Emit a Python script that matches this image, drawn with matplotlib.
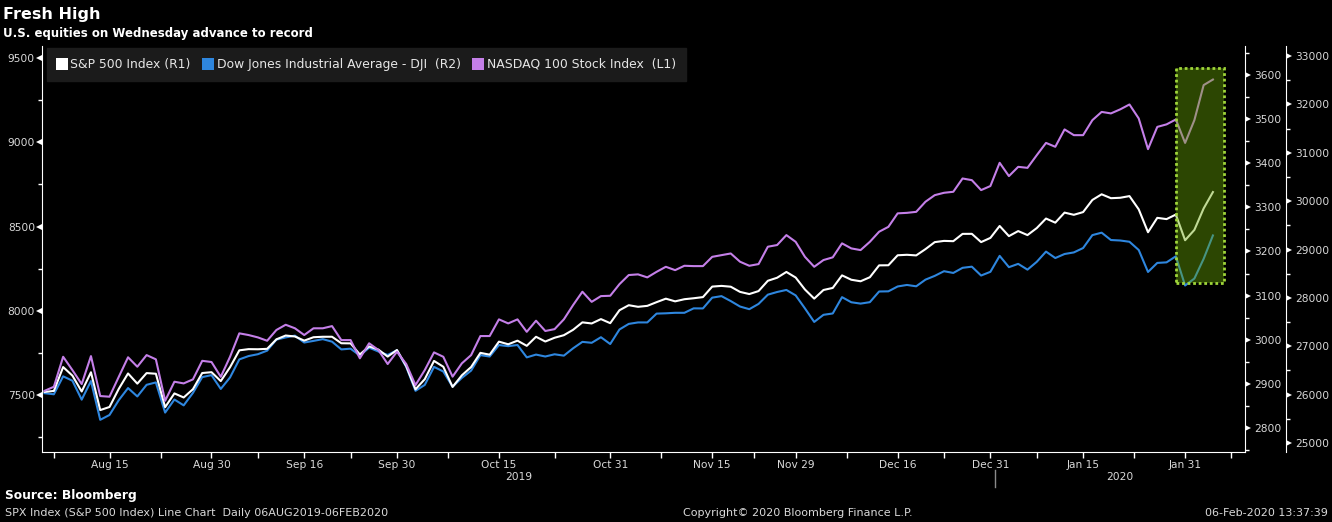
import matplotlib
matplotlib.use("Agg")
import matplotlib.pyplot as plt
import matplotlib.transforms as mtransforms
from matplotlib.lines import Line2D
from matplotlib.patches import Rectangle
import pandas as pd

# ---------------- data ----------------
holidays = ["2019-09-02", "2019-11-28", "2019-12-25", "2020-01-01", "2020-01-20"]
dates = pd.bdate_range("2019-08-06", "2020-02-05", freq="C", holidays=holidays)

spx = [2881.77, 2883.98, 2938.09, 2918.65, 2882.70, 2926.32, 2840.60, 2847.60, 2888.68, 2923.65,
       2900.51, 2924.43, 2922.95, 2847.11, 2878.38, 2869.16, 2887.94, 2924.58, 2926.46,
       2906.27, 2937.78, 2976.00, 2978.71, 2978.43, 2979.39, 3000.93, 3009.57, 3007.39, 2997.96,
       3005.70, 3006.73, 3006.79, 2992.07, 2991.78, 2966.60, 2984.87, 2977.62, 2961.79, 2976.74,
       2940.25, 2887.61, 2910.63, 2952.01, 2938.79, 2893.06, 2919.40, 2938.13, 2970.27, 2966.15,
       2995.68, 2989.69, 2997.95, 2986.20, 3006.72, 2995.99, 3004.52, 3010.29, 3022.55, 3039.42,
       3036.89, 3046.77, 3037.56,
       3066.91, 3078.27, 3074.62, 3076.78, 3085.18, 3093.08, 3087.01, 3091.84, 3094.04, 3096.63,
       3120.46, 3122.03, 3120.18, 3108.46, 3103.54, 3110.29, 3133.64, 3140.52, 3153.63, 3140.98,
       3113.87, 3093.20, 3112.76, 3117.43, 3145.91, 3135.96, 3132.52, 3141.63, 3168.57, 3168.80,
       3191.45, 3192.52, 3191.14, 3205.37, 3221.22, 3224.01, 3223.38, 3239.91, 3240.02, 3221.29,
       3230.78,
       3257.85, 3234.85, 3246.28, 3237.18, 3253.05, 3274.70, 3265.35, 3288.13, 3283.15, 3289.29,
       3316.81, 3329.62, 3320.79, 3321.75, 3325.54, 3295.47, 3243.63, 3276.24, 3273.40, 3283.66,
       3225.52,
       3248.92, 3297.59, 3334.69]

dji = [26029.52, 26007.07, 26378.19, 26287.44, 25896.44, 26279.91, 25479.42, 25579.39, 25886.01,
       26135.79, 25962.44, 26202.73, 26252.24, 25628.90, 25898.83, 25777.90, 26036.10, 26362.25,
       26403.28,
       26118.02, 26355.47, 26728.15, 26797.46, 26835.51, 26909.43, 27137.04, 27182.45, 27219.52,
       27076.82, 27110.80, 27147.08, 27094.79, 26935.07, 26949.99, 26807.77, 26970.71, 26891.12,
       26820.25, 26916.83,
       26573.04, 26078.62, 26201.04, 26573.72, 26478.02, 26164.04, 26346.01, 26496.67, 26816.59,
       26787.36, 27024.80, 27001.98, 27025.88, 26770.20, 26827.64, 26788.10, 26833.95, 26805.53,
       26958.06, 27090.72, 27071.46, 27186.69, 27046.23,
       27347.36, 27462.11, 27492.63, 27492.56, 27674.80, 27681.24, 27691.49, 27691.49, 27783.59,
       27781.96, 28004.89, 28036.22, 27934.02, 27821.09, 27766.29, 27875.62, 28066.47, 28121.68,
       28164.00, 28051.41,
       27783.04, 27502.81, 27649.78, 27677.79, 28015.06, 27909.60, 27881.72, 27911.30, 28132.05,
       28135.38, 28235.89, 28267.16, 28239.28, 28376.96, 28455.09, 28551.53, 28515.45, 28621.39,
       28645.26, 28462.14, 28538.44,
       28868.80, 28634.88, 28703.38, 28583.68, 28745.09, 28956.90, 28823.77, 28907.05, 28939.67,
       29030.22, 29297.64, 29348.10, 29196.04, 29186.27, 29160.09, 28989.73, 28535.80, 28722.85,
       28734.45, 28859.44, 28256.03,
       28399.81, 28807.63, 29290.85]

ndx = [7525, 7549, 7727, 7648, 7565, 7731, 7494, 7490, 7608, 7724,
       7668, 7737, 7712, 7466, 7579, 7569, 7593, 7703, 7696, 7608,
       7727, 7866, 7856, 7842, 7822, 7886, 7917, 7896, 7856, 7896,
       7896, 7909, 7826, 7826, 7718, 7807, 7767, 7684, 7757, 7684,
       7559, 7648, 7753, 7727, 7609, 7688, 7737, 7850, 7850, 7949,
       7925, 7949, 7875, 7941, 7880, 7891, 7949, 8034, 8113, 8053,
       8087, 8089, 8158, 8212, 8216, 8198, 8231, 8261, 8241, 8267,
       8265, 8265, 8320, 8330, 8340, 8291, 8267, 8277, 8380, 8390,
       8449, 8409, 8320, 8261, 8301, 8317, 8400, 8370, 8360, 8409,
       8469, 8498, 8578, 8581, 8587, 8647, 8686, 8700, 8706, 8785,
       8775, 8716, 8740, 8878, 8799, 8854, 8848, 8923, 8996, 8973,
       9076, 9042, 9042, 9131, 9180, 9171, 9195, 9224, 9141, 8959,
       9091, 9106, 9135, 8996, 9131, 9339, 9372]

labels = ["S&P 500 Index (R1)", "Dow Jones Industrial Average - DJI  (R2)", "NASDAQ 100 Stock Index  (L1)"]
colors = ["#ffffff", "#2e86de", "#c47fe8"]

xtick_dates = ["2019-08-15", "2019-08-30", "2019-09-16", "2019-09-30", "2019-10-15", "2019-10-31",
               "2019-11-15", "2019-11-29", "2019-12-16", "2019-12-31", "2020-01-15", "2020-01-31"]
xtick_labels = ["Aug 15", "Aug 30", "Sep 16", "Sep 30", "Oct 15", "Oct 31",
                "Nov 15", "Nov 29", "Dec 16", "Dec 31", "Jan 15", "Jan 31"]

l1_ticks = [7500, 8000, 8500, 9000, 9500]
r1_ticks = [2800, 2900, 3000, 3100, 3200, 3300, 3400, 3500, 3600]
r2_ticks = [25000, 26000, 27000, 28000, 29000, 30000, 31000, 32000, 33000]
highlight_start = "2020-01-30"

# ---------------- figure ----------------
W, H = 1332, 522
fig = plt.figure(figsize=(W / 100, H / 100), dpi=100, facecolor="black")
ax = fig.add_axes([42 / W, 70 / H, 1203 / W, 406 / H])
ax_r1 = ax.twinx()
ax_r2 = ax.twinx()
ax_r2.set_zorder(1)
ax_r1.set_zorder(2)
ax.set_zorder(3)
ax.patch.set_visible(False)

x = list(range(len(dates)))
date_str = [d.strftime("%Y-%m-%d") for d in dates]

lw = 1.5
ax_r2.plot(x, dji, color=colors[1], lw=lw)
ax_r1.plot(x, spx, color=colors[0], lw=lw)
ax.plot(x, ndx, color=colors[2], lw=lw)

ax.set_xlim(-0.28, 129.46)
ax.set_ylim(7162, 9571)
ax_r1.set_ylim(2745.6, 3665.7)
ax_r2.set_ylim(24814, 33207)

txtc = "#d9d9d9"
fs = 7.7
for a in (ax, ax_r1, ax_r2):
    for s in a.spines.values():
        s.set_visible(False)
        s.set_color("white")
ax.spines["left"].set_visible(True)
ax.spines["bottom"].set_visible(True)
ax_r1.spines["right"].set_visible(True)
ax_r2.spines["right"].set_visible(True)
ax_r2.spines["right"].set_position(("outward", 41 * 72 / 100))

# y ticks
ax.set_yticks(l1_ticks)
ax.set_yticks([v + 250 for v in l1_ticks[:-1]] + [l1_ticks[0] - 250], minor=True)
ax_r1.set_yticks(r1_ticks)
ax_r1.set_yticks([v - 50 for v in r1_ticks] + [r1_ticks[-1] + 50], minor=True)
ax_r2.set_yticks(r2_ticks)
ax_r2.set_yticks([v + 500 for v in r2_ticks[:-1]], minor=True)

ax.tick_params(axis="y", which="major", length=0, pad=7 * 0.72, labelsize=fs, labelcolor=txtc)
ax.tick_params(axis="y", which="minor", length=3, width=1, color="white")
for a in (ax_r1, ax_r2):
    a.tick_params(axis="y", which="major", length=0, pad=9 * 0.72, labelsize=fs, labelcolor=txtc)
    a.tick_params(axis="y", which="minor", length=3, width=1, color="white")


def triangles(a, xfrac, values, marker, dx):
    base = mtransforms.blended_transform_factory(a.transAxes, a.transData)
    tr = mtransforms.offset_copy(base, fig=fig, x=dx, y=0, units="dots")
    a.plot([xfrac] * len(values), values, ls="none", marker=marker, ms=5, mew=0,
           color="white", transform=tr, clip_on=False, zorder=6)


triangles(ax, 0, l1_ticks, "<", -3)
triangles(ax_r1, 1, r1_ticks, ">", 3)
triangles(ax_r2, 1, r2_ticks, ">", 44)

# x ticks
xt = [date_str.index(d) for d in xtick_dates]
ax.set_xticks(xt)
ax.set_xticklabels(xtick_labels)
minor_x = [1] + [(xt[i] + xt[i + 1]) / 2 for i in range(len(xt) - 1)] + [xt[-1] + 5]
ax.set_xticks(minor_x, minor=True)
ax.tick_params(axis="x", which="both", length=4, width=1, color="white", direction="out")
ax.tick_params(axis="x", which="major", pad=2, labelsize=fs, labelcolor=txtc)
for a in (ax_r1, ax_r2):
    a.tick_params(axis="x", which="both", length=0)

# year labels and separator
xl0, xl1 = ax.get_xlim()
year_split = date_str.index("2020-01-02") - 0.5
xtr = ax.get_xaxis_transform()
ax.text((xl0 + year_split) / 2, -0.062, "2019", transform=xtr, ha="center", va="center",
        fontsize=fs, color=txtc)
ax.text((year_split + xl1) / 2, -0.062, "2020", transform=xtr, ha="center", va="center",
        fontsize=fs, color=txtc)
ax.plot([year_split, year_split], [-0.045, -0.085], transform=xtr, color="#8a8a8a", lw=1,
        clip_on=False)

# highlight box
hx = date_str.index(highlight_start)
box = Rectangle((hx, 8166), (len(x) - 1 - hx) + 1.2, 9439 - 8166,
                facecolor=(0.42, 0.66, 0.02, 0.42), edgecolor="none", zorder=8)
ax.add_patch(box)
edge = Rectangle((hx, 8166), (len(x) - 1 - hx) + 1.2, 9439 - 8166,
                 facecolor="none", edgecolor="#9fd53a", lw=2, linestyle=(0, (1, 1)), zorder=9)
ax.add_patch(edge)

# legend
handles = [Line2D([], [], ls="none", marker="s", ms=8, mew=0, color=c) for c in colors]
leg = ax.legend(handles, labels, ncol=3, loc="upper left", bbox_to_anchor=(5 / 1203, 1 - 2 / 406),
                frameon=True, fancybox=False, facecolor="#1b1b1b", edgecolor="#1b1b1b",
                framealpha=1, fontsize=8.9, labelcolor="#e6e6e6", handletextpad=0.25,
                columnspacing=1.0, borderpad=0.8, handlelength=0.85, borderaxespad=0)
leg.set_zorder(10)

# texts
fig.text(3 / W, 1 - 14 / H, "Fresh High", fontsize=11.5, fontweight="bold", color="white",
         va="center", ha="left")
fig.text(3 / W, 1 - 33 / H, "U.S. equities on Wednesday advance to record", fontsize=8.5,
         fontweight="bold", color="white", va="center", ha="left")
fig.text(5 / W, 1 - 495 / H, "Source: Bloomberg", fontsize=8.8, fontweight="bold", color="white",
         va="center", ha="left")
fig.text(5 / W, 1 - 513 / H, "SPX Index (S&P 500 Index) Line Chart  Daily 06AUG2019-06FEB2020",
         fontsize=8, color=txtc, va="center", ha="left")
fig.text(683 / W, 1 - 513 / H, "Copyright\u00a9 2020 Bloomberg Finance L.P.", fontsize=8,
         color=txtc, va="center", ha="left")
fig.text(1328 / W, 1 - 513 / H, "06-Feb-2020 13:37:39", fontsize=8, color=txtc,
         va="center", ha="right")

fig.savefig("out.png", dpi=100, facecolor="black")
